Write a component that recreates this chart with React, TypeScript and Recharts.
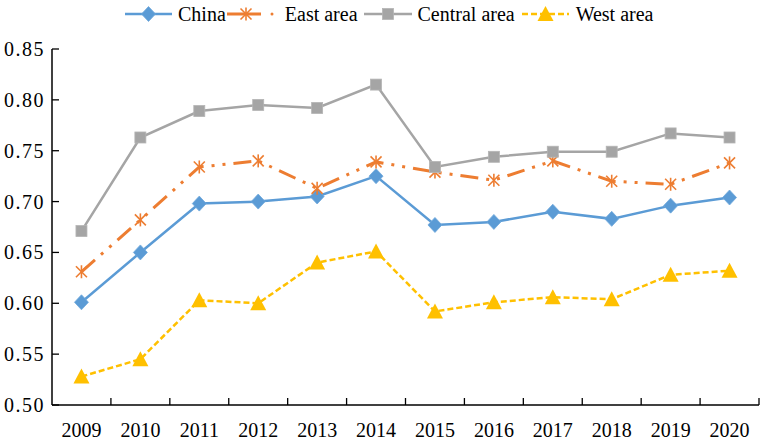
import { Legend, Line, LineChart, XAxis, YAxis } from 'recharts';

const YEARS = ['2009', '2010', '2011', '2012', '2013', '2014', '2015', '2016', '2017', '2018', '2019', '2020'];
const CHINA = [0.601, 0.65, 0.698, 0.7, 0.705, 0.725, 0.677, 0.68, 0.69, 0.683, 0.696, 0.704];
const EAST = [0.631, 0.682, 0.734, 0.74, 0.713, 0.739, 0.729, 0.721, 0.74, 0.72, 0.717, 0.738];
const CENTRAL = [0.671, 0.763, 0.789, 0.795, 0.792, 0.815, 0.734, 0.744, 0.749, 0.749, 0.767, 0.763];
const WEST = [0.528, 0.545, 0.603, 0.6, 0.64, 0.651, 0.592, 0.601, 0.606, 0.604, 0.628, 0.632];
const Y_TICKS = [0.5, 0.55, 0.6, 0.65, 0.7, 0.75, 0.8, 0.85];
const SERIES_NAMES = ['China', 'East area', 'Central area', 'West area'];

const data = YEARS.map((year, i) => ({
  year,
  china: CHINA[i],
  east: EAST[i],
  central: CENTRAL[i],
  west: WEST[i],
}));

const WIDTH = 765;
const HEIGHT = 441;
const MARGIN = { top: 0, right: 6, bottom: 0, left: 0 };
const Y_AXIS_W = 52;
const X_AXIS_H = 36;
const LEGEND_H = 49;
const BAND = (WIDTH - MARGIN.left - MARGIN.right - Y_AXIS_W) / YEARS.length;
const FONT = '"Liberation Serif", "Times New Roman", "DejaVu Serif", serif';

const BLUE = '#5B9BD5';
const ORANGE = '#ED7D31';
const GRAY = '#A5A5A5';
const GOLD = '#FFC000';
const EAST_DASH = '18 8 3 8 3 8';
const WEST_DASH = '6 3';

// marker shapes, Excel style
function diamond(cx: number, cy: number) {
  return <path d={`M${cx},${cy - 7.5}L${cx + 7},${cy}L${cx},${cy + 7.5}L${cx - 7},${cy}Z`} fill={BLUE} stroke="#6FA8DC" strokeWidth={0.8} />;
}
function star(cx: number, cy: number) {
  const r = 6.5;
  const d = 5.5;
  return (
    <g stroke={ORANGE} strokeWidth={1.6}>
      <line x1={cx} y1={cy - r} x2={cx} y2={cy + r} />
      <line x1={cx - d} y1={cy - d} x2={cx + d} y2={cy + d} />
      <line x1={cx - d} y1={cy + d} x2={cx + d} y2={cy - d} />
    </g>
  );
}
function square(cx: number, cy: number) {
  return <rect x={cx - 5.5} y={cy - 5.5} width={11} height={11} fill={GRAY} stroke="#B5B5B5" strokeWidth={0.8} />;
}
function triangle(cx: number, cy: number) {
  return <path d={`M${cx},${cy - 8}L${cx + 8},${cy + 7}L${cx - 8},${cy + 7}Z`} fill={GOLD} />;
}

const dotOf = (shape: (cx: number, cy: number) => any, tag: string) => (p: any) => (
  <g key={`${tag}-${p.index}`}>{shape(p.cx, p.cy)}</g>
);

const tickText = { fontFamily: FONT, fontSize: 20, fill: '#000' };

function YearTick({ x, y, payload, index }: any) {
  const half = BAND / 2;
  return (
    <g>
      {index > 0 && <line x1={x - half} y1={y - 7} x2={x - half} y2={y} stroke="#000" strokeWidth={1.3} />}
      {index === YEARS.length - 1 && <line x1={x + half} y1={y - 7} x2={x + half} y2={y} stroke="#000" strokeWidth={1.3} />}
      <text x={x} y={y + 32} textAnchor="middle" style={tickText}>
        {payload.value}
      </text>
    </g>
  );
}

function ValueTick({ x, y, payload }: any) {
  return (
    <g>
      <line x1={x} y1={y} x2={x + 7} y2={y} stroke="#000" strokeWidth={1.3} />
      <text x={x - 7} y={y + 7} textAnchor="end" style={{ ...tickText, letterSpacing: 1.5 }}>
        {Number(payload.value).toFixed(2)}
      </text>
    </g>
  );
}

const ICONS = [
  <svg width={47} height={28} key="c">
    <line x1={0} y1={14} x2={47} y2={14} stroke={BLUE} strokeWidth={2.5} />
    {diamond(23.5, 14)}
  </svg>,
  <svg width={52} height={28} key="e">
    <line x1={0} y1={14} x2={34} y2={14} stroke={ORANGE} strokeWidth={3} />
    {star(19, 14)}
    <circle cx={45} cy={14} r={1.5} fill={ORANGE} />
  </svg>,
  <svg width={48} height={28} key="m">
    <line x1={0} y1={14} x2={48} y2={14} stroke={GRAY} strokeWidth={2.5} />
    {square(24, 14)}
  </svg>,
  <svg width={47} height={28} key="w">
    <line x1={0} y1={14} x2={47} y2={14} stroke={GOLD} strokeWidth={2.5} strokeDasharray={WEST_DASH} />
    {triangle(23.5, 14)}
  </svg>,
];
const ICON_GAP = [6, 6, 6, 7];
const ITEM_GAP = [1, 6, 7, 0];

function ChartLegend() {
  return (
    <div style={{ height: LEGEND_H, width: WIDTH, boxSizing: 'border-box', paddingLeft: 125, fontFamily: FONT, fontSize: 20, color: '#000' }}>
      <div style={{ display: 'flex', alignItems: 'center', height: 28 }}>
        {SERIES_NAMES.map((name, i) => (
          <div key={name} style={{ display: 'flex', alignItems: 'center', marginRight: ITEM_GAP[i] }}>
            {ICONS[i]}
            <span style={{ marginLeft: ICON_GAP[i], lineHeight: '28px' }}>{name}</span>
          </div>
        ))}
      </div>
    </div>
  );
}

export default function App() {
  return (
    <div style={{ position: 'absolute', left: 0, top: 0, width: WIDTH, height: HEIGHT, background: '#fff', fontFamily: FONT }}>
      <LineChart width={WIDTH} height={HEIGHT} data={data} margin={MARGIN} style={{ fontFamily: FONT }}>
        <Legend verticalAlign="top" align="left" content={<ChartLegend />} wrapperStyle={{ left: 0, top: 0, width: WIDTH, height: LEGEND_H }} />
        <XAxis
          dataKey="year"
          scale="band"
          height={X_AXIS_H}
          interval={0}
          tickLine={false}
          tickSize={0}
          tickMargin={0}
          axisLine={{ stroke: '#000', strokeWidth: 1.5 }}
          tick={<YearTick />}
        />
        <YAxis
          type="number"
          domain={[0.5, 0.85]}
          ticks={Y_TICKS}
          width={Y_AXIS_W}
          interval={0}
          tickLine={false}
          tickSize={0}
          tickMargin={0}
          axisLine={{ stroke: '#000', strokeWidth: 1.5 }}
          tick={<ValueTick />}
        />
        <Line
          dataKey="china"
          name={SERIES_NAMES[0]}
          type="linear"
          stroke={BLUE}
          strokeWidth={2.5}
          dot={dotOf(diamond, 'c')}
          activeDot={false}
          isAnimationActive={false}
        />
        <Line
          dataKey="east"
          name={SERIES_NAMES[1]}
          type="linear"
          stroke={ORANGE}
          strokeWidth={3}
          strokeDasharray={EAST_DASH}
          dot={dotOf(star, 'e')}
          activeDot={false}
          isAnimationActive={false}
        />
        <Line
          dataKey="central"
          name={SERIES_NAMES[2]}
          type="linear"
          stroke={GRAY}
          strokeWidth={2.5}
          dot={dotOf(square, 'm')}
          activeDot={false}
          isAnimationActive={false}
        />
        <Line
          dataKey="west"
          name={SERIES_NAMES[3]}
          type="linear"
          stroke={GOLD}
          strokeWidth={2.5}
          strokeDasharray={WEST_DASH}
          dot={dotOf(triangle, 'w')}
          activeDot={false}
          isAnimationActive={false}
        />
      </LineChart>
    </div>
  );
}
